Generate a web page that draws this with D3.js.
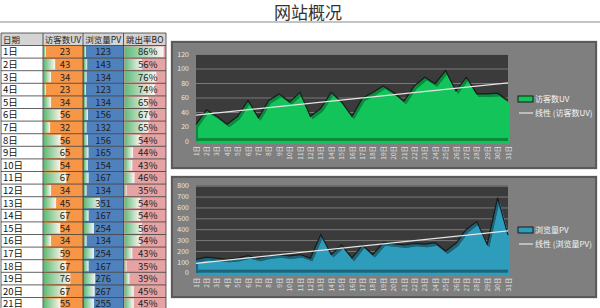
<!DOCTYPE html>
<meta charset="utf-8">
<style>
  body { margin: 0; background: #fff; }
  text { font-family: "Noto Sans CJK SC", "Noto Sans", sans-serif; }
</style>
<body>
<script src="https://d3js.org/d3.v7.min.js"></script>
<script>

// Data (days 22-31 only visible in the charts)
const days = ["1日","2日","3日","4日","5日","6日","7日","8日","9日","10日",
              "11日","12日","13日","14日","15日","16日","17日","18日","19日","20日",
              "21日","22日","23日","24日","25日","26日","27日","28日","29日","30日","31日"];
const uv = [23,43,34,23,34,56,32,56,65,54,67,34,45,67,54,34,59,67,76,67,55,
            76,88,79,97,69,88,65,65,66,56];
const pv = [123,143,134,123,134,156,132,156,165,154,167,134,351,167,254,134,254,167,276,267,255,
            270,262,276,200,270,400,470,260,690,346];
const bounce = [86,56,76,74,65,67,65,54,44,43,46,35,54,54,56,54,43,35,39,45,45];
const headers = ["日期", "访客数UV", "浏览量PV", "跳出率BO"];
const uvTicks = [0,20,40,60,80,100,120];
const pvTicks = [0,100,200,300,400,500,600,700,800];

const W = 600, H = 308;
const svg = d3.select("body").append("svg")
    .attr("width", W)
    .attr("height", H);

const defs = svg.append("defs");
const grad = defs.append("linearGradient").attr("id", "bar-grad");
grad.append("stop").attr("offset", "0%").attr("stop-color", "#5dbb76");
grad.append("stop").attr("offset", "100%").attr("stop-color", "#ffffff").attr("stop-opacity", 0.9);

// Title
svg.append("text")
    .attr("x", 308)
    .attr("y", 19)
    .attr("text-anchor", "middle")
    .style("font-size", "17px")
    .style("fill", "#333")
    .text("网站概况");
svg.append("line")
    .attr("x1", 0).attr("x2", W)
    .attr("y1", 22).attr("y2", 22)
    .style("stroke", "#c4c4c4")
    .style("stroke-width", 2);

// ---------- table ----------
const colX = [1, 43, 83, 123.5, 166];
const headTop = 33, rowH = 12.6, rowTop = 45.5;
const colFill = ["#ffffff", "#f79646", "#4f81bd", "#e6a3a3"];
const table = svg.append("g").attr("class", "table");

table.append("rect")
    .attr("x", colX[0]).attr("y", headTop)
    .attr("width", colX[4] - colX[0]).attr("height", rowTop - headTop)
    .style("fill", "#d4d4d4");

headers.forEach(function(h, i) {
    table.append("text")
        .attr("x", i === 0 ? colX[0] + 2 : (colX[i] + colX[i + 1]) / 2)
        .attr("y", rowTop - 3)
        .attr("text-anchor", i === 0 ? "start" : "middle")
        .style("font-size", "8.5px")
        .style("fill", "#222")
        .text(h);
});

// bar length scales (Excel data bars run from min to max)
const uvBar = d3.scaleLinear().domain(d3.extent(uv)).range([2, (colX[2] - colX[1]) * 0.9]);
const pvBar = d3.scaleLinear().domain(d3.extent(pv)).range([2, (colX[3] - colX[2]) * 0.9]);
const boBar = d3.scaleLinear().domain(d3.extent(bounce)).range([2, (colX[4] - colX[3]) * 0.92]);

const rows = table.selectAll(".row").data(bounce).enter()
    .append("g")
      .attr("class", "row")
      .attr("transform", function(d, i) { return "translate(0," + (rowTop + i * rowH) + ")"; });

[0, 1, 2, 3].forEach(function(c) {
    rows.append("rect")
        .attr("x", colX[c]).attr("y", 0)
        .attr("width", colX[c + 1] - colX[c]).attr("height", rowH)
        .style("fill", colFill[c]);
});

rows.append("rect")
    .attr("x", colX[1] + 1).attr("y", 1)
    .attr("width", function(d, i) { return uvBar(uv[i]); })
    .attr("height", rowH - 2)
    .style("fill", "url(#bar-grad)");
rows.append("rect")
    .attr("x", colX[2] + 1).attr("y", 1)
    .attr("width", function(d, i) { return pvBar(pv[i]); })
    .attr("height", rowH - 2)
    .style("fill", "url(#bar-grad)");
rows.append("rect")
    .attr("x", colX[3] + 1).attr("y", 1)
    .attr("width", function(d) { return boBar(d); })
    .attr("height", rowH - 2)
    .style("fill", "url(#bar-grad)");

const cellFont = "9.5px";
rows.append("text")
    .attr("x", colX[0] + 2).attr("y", rowH - 2.8)
    .style("font-size", cellFont).style("fill", "#111")
    .text(function(d, i) { return days[i]; });
rows.append("text")
    .attr("x", (colX[1] + colX[2]) / 2 + 2).attr("y", rowH - 2.8)
    .attr("text-anchor", "middle")
    .style("font-size", cellFont).style("fill", "#222")
    .text(function(d, i) { return uv[i]; });
rows.append("text")
    .attr("x", (colX[2] + colX[3]) / 2).attr("y", rowH - 2.8)
    .attr("text-anchor", "middle")
    .style("font-size", cellFont).style("fill", "#222")
    .text(function(d, i) { return pv[i]; });
rows.append("text")
    .attr("x", (colX[3] + colX[4]) / 2 + 3).attr("y", rowH - 2.8)
    .attr("text-anchor", "middle")
    .style("font-size", cellFont).style("fill", "#222")
    .text(function(d) { return d + "%"; });

// grid lines of the table
const nRows = bounce.length;
colX.forEach(function(x) {
    table.append("line")
        .attr("x1", x).attr("x2", x)
        .attr("y1", headTop).attr("y2", rowTop + nRows * rowH)
        .style("stroke", "#3a3a3a").style("stroke-width", 0.8);
});
d3.range(nRows + 2).forEach(function(i) {
    const y = i === 0 ? headTop : rowTop + (i - 1) * rowH;
    table.append("line")
        .attr("x1", colX[0]).attr("x2", colX[4])
        .attr("y1", y).attr("y2", y)
        .style("stroke", "#3a3a3a").style("stroke-width", 0.8);
});

// ---------- area charts ----------
function drawChart(opt) {
    const g = svg.append("g");
    const box = opt.box, plot = opt.plot;

    g.append("rect")
        .attr("x", box.x - 1).attr("y", box.y - 1)
        .attr("width", box.w + 2).attr("height", box.h + 2)
        .style("fill", "none").style("stroke", "#cfcfcf");
    g.append("rect")
        .attr("x", box.x).attr("y", box.y)
        .attr("width", box.w).attr("height", box.h)
        .style("fill", "#7f7f7f").style("stroke", "#5a5a5a").style("stroke-width", 2);

    const x = d3.scalePoint().domain(days).range([plot.x0, plot.x1]);
    const y = d3.scaleLinear().domain([0, opt.max]).range([plot.y1, plot.y0]);

    g.append("rect")
        .attr("x", plot.x0).attr("y", plot.y0)
        .attr("width", plot.x1 - plot.x0).attr("height", plot.y1 - plot.y0)
        .style("fill", "#3b3b3b");

    // gridlines + y labels
    const yAxis = g.append("g")
        .attr("transform", "translate(" + plot.x0 + ",0)")
        .call(d3.axisLeft(y).tickValues(opt.ticks).tickSize(-(plot.x1 - plot.x0)).tickPadding(7));
    yAxis.select(".domain").remove();
    yAxis.selectAll("line").style("stroke", "#7a7a7a");
    yAxis.selectAll("text")
        .style("font-size", "7px")
        .style("fill", "#e8e8e8")
        .style("font-family", "'Noto Sans CJK SC', sans-serif");

    // x labels (vertical)
    g.selectAll(".xl").data(days).enter()
        .append("text")
        .attr("class", "xl")
        .attr("transform", function(d) {
            return "translate(" + (x(d) + 2.5) + "," + (plot.y1 + 5) + ") rotate(-90)";
        })
        .attr("text-anchor", "end")
        .style("font-size", "6.5px")
        .style("fill", "#e0e0e0")
        .text(function(d) { return d; });

    const vals = opt.values;
    const area = d3.area()
        .x(function(d, i) { return x(days[i]); })
        .y0(y(0))
        .y1(function(d) { return y(d); });

    const clipId = "clip-" + opt.id;
    defs.append("clipPath").attr("id", clipId)
        .append("path").attr("d", area(vals));

    // back (dark) face, front face shifted for a 3D look
    g.append("path")
        .attr("d", area(vals))
        .style("fill", opt.dark);
    g.append("path")
        .attr("d", area(vals))
        .attr("clip-path", "url(#" + clipId + ")")
        .attr("transform", "translate(2,3)")
        .style("fill", opt.color);
    g.append("rect")
        .attr("x", plot.x0).attr("y", y(0) - 3)
        .attr("width", plot.x1 - plot.x0).attr("height", 3)
        .style("fill", opt.dark);
    g.append("path")
        .attr("d", d3.line()
            .x(function(d, i) { return x(days[i]); })
            .y(function(d) { return y(d); })(vals))
        .style("fill", "none")
        .style("stroke", "#1a1a1a")
        .style("stroke-width", 1.2);

    // linear trendline
    const n = vals.length;
    const mx = d3.mean(vals, function(d, i) { return i; }), my = d3.mean(vals);
    const slope = d3.sum(vals, function(d, i) { return (i - mx) * (d - my); }) /
                  d3.sum(vals, function(d, i) { return (i - mx) * (i - mx); });
    const icpt = my - slope * mx;
    g.append("line")
        .attr("x1", x(days[0])).attr("y1", y(icpt))
        .attr("x2", x(days[n - 1])).attr("y2", y(icpt + slope * (n - 1)))
        .style("stroke", "#e6e6e6")
        .style("stroke-width", 1.2);

    // legend
    const lg = g.append("g").attr("transform", "translate(518," + opt.legendY + ")");
    lg.append("rect")
        .attr("x", 0).attr("y", -3)
        .attr("width", 15).attr("height", 6)
        .style("fill", opt.color).style("stroke", "#1a1a1a").style("stroke-width", 1);
    lg.append("text")
        .attr("x", 17).attr("y", 3)
        .style("font-size", "8px").style("fill", "#f4f4f4")
        .text(opt.name);
    lg.append("line")
        .attr("x1", 1).attr("x2", 15)
        .attr("y1", 14).attr("y2", 14)
        .style("stroke", "#e6e6e6").style("stroke-width", 1.2);
    lg.append("text")
        .attr("x", 17).attr("y", 17)
        .style("font-size", "8px").style("fill", "#f4f4f4")
        .text("线性 (" + opt.name + ")");
}

drawChart({
    id: "uv", name: "访客数UV", values: uv, max: 120, ticks: uvTicks,
    color: "#12c45a", dark: "#0a8a3c",
    box: {x: 172, y: 42, w: 424, h: 126},
    plot: {x0: 196, x1: 508, y0: 54, y1: 141},
    legendY: 99
});

drawChart({
    id: "pv", name: "浏览量PV", values: pv, max: 800, ticks: pvTicks,
    color: "#2e9dbb", dark: "#1d6478",
    box: {x: 172, y: 177, w: 424, h: 120},
    plot: {x0: 196, x1: 508, y0: 185.7, y1: 272.7},
    legendY: 230
});

</script>
</body>
